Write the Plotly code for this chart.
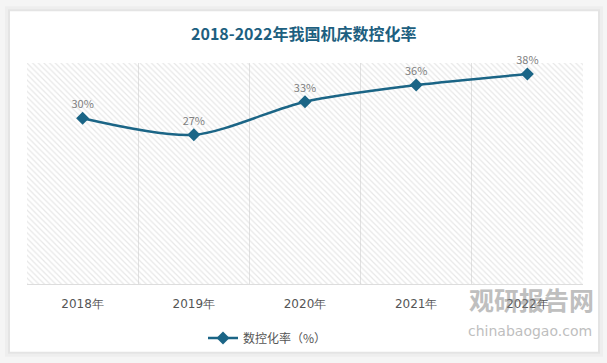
import plotly.graph_objects as go

years = ["2018年", "2019年", "2020年", "2021年", "2022年"]
rates = [30, 27, 33, 36, 38]
labels = [f"{v}%" for v in rates]

W, H = 607, 363
ML, MR, MT, MB = 27, 24, 63, 78
pw, ph = W - ML - MR, H - MT - MB

def px(x):
    return (x - ML) / pw

def py(y):
    return (H - MB - y) / ph

FONT = "Noto Sans CJK SC"
LINE = "#1b6586"

idx = list(range(len(years)))

fig = go.Figure()
# hatched plot background
fig.add_trace(go.Scatter(
    x=[-0.5, 4.5, 4.5, -0.5, -0.5], y=[0, 0, 40, 40, 0],
    fill="toself", mode="none", hoverinfo="skip", showlegend=False,
    fillcolor="rgba(0,0,0,0)",
    fillpattern=dict(shape="\\", fgcolor="#d0d0d0", bgcolor="rgba(0,0,0,0)",
                     size=4, solidity=0.3),
))
fig.add_trace(go.Scatter(
    x=idx, y=rates, mode="lines+markers+text", name="数控化率（%）",
    line=dict(color=LINE, width=2.5, shape="spline", smoothing=0.8),
    marker=dict(symbol="diamond", size=10, color=LINE),
    text=labels, textposition="top center", cliponaxis=False,
    textfont=dict(size=11, color="#808080", family=FONT),
))

shapes = [
    dict(type="rect", xref="paper", yref="paper", layer="below",
         x0=px(5), x1=px(603), y0=py(358), y1=py(6),
         fillcolor="#eeeeee", line_width=0),
    dict(type="rect", xref="paper", yref="paper", layer="below",
         x0=px(8), x1=px(600), y0=py(355), y1=py(9),
         fillcolor="#e4e4e4", line_width=0),
    dict(type="rect", xref="paper", yref="paper", layer="below",
         x0=px(10), x1=px(598), y0=py(353), y1=py(11),
         fillcolor="white", line_width=0),
]

annotations = [
    dict(text="<b>2018-2022年我国机床数控化率</b>", xref="paper", yref="paper",
         x=px(303), y=py(33), xanchor="center", yanchor="middle", showarrow=False,
         font=dict(size=16, color="#1d5f80", family=FONT)),
    dict(text="<b>观研报告网</b>", xref="paper", yref="paper",
         x=px(531), y=py(300), xanchor="center", yanchor="middle", showarrow=False,
         opacity=0.5, font=dict(size=25, color="#808080", family=FONT)),
    dict(text="chinabaogao.com", xref="paper", yref="paper",
         x=px(530), y=py(332), xanchor="center", yanchor="middle", showarrow=False,
         opacity=0.5, font=dict(size=14, color="#808080", family="DejaVu Sans")),
]

fig.update_layout(
    width=W, height=H,
    margin=dict(l=ML, r=MR, t=MT, b=MB),
    paper_bgcolor="#f5f5f5", plot_bgcolor="white",
    shapes=shapes, annotations=annotations,
    showlegend=True,
    legend=dict(orientation="h", x=px(203), xanchor="left", y=py(338), yanchor="middle",
                font=dict(size=12, color="#555555", family=FONT),
                bgcolor="rgba(0,0,0,0)"),
    xaxis=dict(range=[-0.5, 4.5], tickvals=idx, ticktext=years,
               showgrid=False, zeroline=False,
               ticks="outside", ticklen=9, tickcolor="rgba(0,0,0,0)",
               tickfont=dict(size=12, color="#555555", family="DejaVu Sans"),
               showline=True, linecolor="#dddddd", linewidth=1,
               minor=dict(tickvals=[-0.5, 0.5, 1.5, 2.5, 3.5, 4.5], showgrid=True,
                          gridcolor="#e2e2e2", gridwidth=1, ticks="")),
    yaxis=dict(range=[0, 40], showgrid=False, zeroline=False, showticklabels=False),
)

fig.write_html("out.html", config={"displayModeBar": False},
               post_script="document.body.style.margin='0px';document.body.style.overflow='hidden';")
